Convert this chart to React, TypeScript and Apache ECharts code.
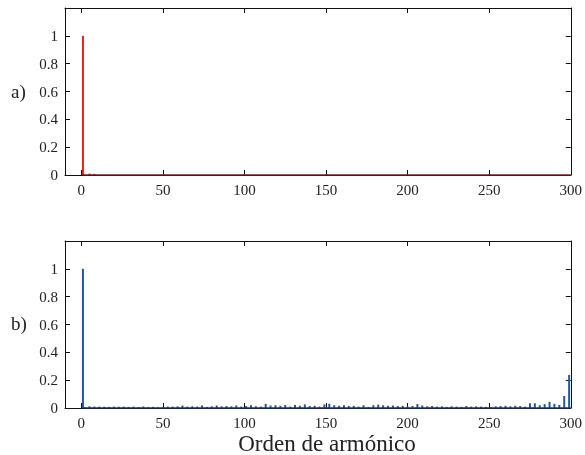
import React, { useEffect, useRef } from "react";
import * as echarts from "echarts";

// a) harmonic orders and amplitudes
const harmonicsA = [1, 5, 8];
const valuesA = [1.0, 0.01, 0.008];

// b) harmonic orders and amplitudes
const harmonicsB = [
  1, 2, 5, 8, 11, 14, 17, 20, 23, 26, 29, 32, 35, 38, 41, 44, 47, 50, 53, 56, 59,
  62, 65, 68, 71, 74, 77, 80, 83, 86, 89, 92, 95, 98, 101, 104, 107, 110, 113, 116,
  119, 122, 125, 128, 131, 134, 137, 140, 143, 146, 149, 152, 155, 158, 161, 164,
  167, 170, 173, 176, 179, 182, 185, 188, 191, 194, 197, 200, 203, 206, 209, 212,
  215, 218, 221, 224, 227, 230, 233, 236, 239, 242, 245, 248, 251, 254, 257, 260,
  263, 266, 269, 272, 275, 278, 281, 284, 287, 290, 293, 296, 299,
];
const valuesB = [
  1.0, 0.004, 0.012, 0.01, 0.01, 0.009, 0.008, 0.01, 0.009, 0.01, 0.008, 0.01, 0.006,
  0.011, 0.006, 0.008, 0.005, 0.006, 0.01, 0.01, 0.012, 0.018, 0.01, 0.012, 0.01,
  0.018, 0.008, 0.012, 0.018, 0.012, 0.014, 0.012, 0.018, 0.01, 0.014, 0.02, 0.012,
  0.01, 0.03, 0.018, 0.02, 0.016, 0.022, 0.01, 0.022, 0.016, 0.026, 0.014, 0.016,
  0.01, 0.026, 0.03, 0.02, 0.016, 0.02, 0.014, 0.016, 0.01, 0.02, 0.008, 0.02, 0.024,
  0.02, 0.016, 0.018, 0.014, 0.016, 0.01, 0.014, 0.028, 0.018, 0.012, 0.014, 0.01,
  0.012, 0.008, 0.012, 0.01, 0.008, 0.014, 0.01, 0.012, 0.01, 0.008, 0.006, 0.012,
  0.014, 0.016, 0.012, 0.016, 0.014, 0.01, 0.034, 0.034, 0.02, 0.028, 0.045, 0.03,
  0.022, 0.086, 0.237,
];

const xTicks = [0, 50, 100, 150, 200, 250, 300];
const yTicks = [0, 0.2, 0.4, 0.6, 0.8, 1];

const FONT = "'Liberation Serif', 'Times New Roman', 'DejaVu Serif', serif";

export default function App() {
  const ref = useRef<HTMLDivElement>(null);
  useEffect(() => {
    const chart = echarts.init(ref.current!, null, { renderer: "svg" });
    const grids = [
      { left: 65, top: 8, width: 508, height: 167 },
      { left: 65, top: 241, width: 508, height: 167 },
    ];
    const xAxes: any[] = [];
    const yAxes: any[] = [];
    grids.forEach((_, gi) => {
      xAxes.push({
        type: "value",
        gridIndex: gi,
        position: "bottom",
        min: -10,
        max: 300,
        splitLine: { show: false },
        axisLine: { show: true, onZero: false, lineStyle: { color: "#111", width: 1 } },
        axisTick: { show: true, inside: true, length: 5, customValues: xTicks, lineStyle: { color: "#111" } },
        axisLabel: { customValues: xTicks, fontFamily: FONT, fontSize: 15, color: "#222", margin: 7 },
      });
      xAxes.push({
        type: "value",
        gridIndex: gi,
        position: "top",
        min: -10,
        max: 300,
        splitLine: { show: false },
        axisLine: { show: true, onZero: false, lineStyle: { color: "#111", width: 1 } },
        axisTick: { show: true, inside: true, length: 5, customValues: xTicks, lineStyle: { color: "#111" } },
        axisLabel: { show: false },
      });
      yAxes.push({
        type: "value",
        gridIndex: gi,
        position: "left",
        min: 0,
        max: 1.2,
        splitLine: { show: false },
        axisLine: { show: true, onZero: false, lineStyle: { color: "#111", width: 1 } },
        axisTick: { show: true, inside: true, length: 5, customValues: yTicks, lineStyle: { color: "#111" } },
        axisLabel: { customValues: yTicks, fontFamily: FONT, fontSize: 15, color: "#222", margin: 7 },
      });
      yAxes.push({
        type: "value",
        gridIndex: gi,
        position: "right",
        min: 0,
        max: 1.2,
        splitLine: { show: false },
        axisLine: { show: true, onZero: false, lineStyle: { color: "#111", width: 1 } },
        axisTick: { show: true, inside: true, length: 5, customValues: yTicks, lineStyle: { color: "#111" } },
        axisLabel: { show: false },
      });
    });
    const dataA = harmonicsA.map((h, i) => [h, valuesA[i]]);
    const dataB = harmonicsB.map((h, i) => [h, valuesB[i]]);
    chart.setOption({
      animation: false,
      grid: grids,
      xAxis: xAxes,
      yAxis: yAxes,
      series: [
        {
          type: "bar",
          xAxisIndex: 0,
          yAxisIndex: 0,
          data: dataA,
          barWidth: 2,
          itemStyle: { color: "#e8201e" },
        },
        {
          type: "line",
          xAxisIndex: 0,
          yAxisIndex: 0,
          data: [[1, 0], [300, 0]],
          symbol: "none",
          lineStyle: { color: "#7a1f1f", width: 1.5 },
          z: 3,
        },
        {
          type: "bar",
          xAxisIndex: 2,
          yAxisIndex: 2,
          data: dataB,
          barWidth: 2,
          itemStyle: { color: "#2356a6" },
        },
        {
          type: "line",
          xAxisIndex: 2,
          yAxisIndex: 2,
          data: [[1, 0], [300, 0]],
          symbol: "none",
          lineStyle: { color: "#1b3566", width: 1.5 },
          z: 3,
        },
      ],
      graphic: [
        {
          type: "text",
          left: 11,
          top: 82,
          style: { text: "a)", fontFamily: FONT, fontSize: 19, fill: "#222" },
        },
        {
          type: "text",
          left: 11,
          top: 314,
          style: { text: "b)", fontFamily: FONT, fontSize: 19, fill: "#222" },
        },
        {
          type: "text",
          x: 327,
          y: 443,
          style: {
            text: "Orden de armónico",
            fontFamily: FONT,
            fontSize: 23,
            fill: "#222",
            align: "center",
            verticalAlign: "middle",
          },
        },
      ],
    });
    return () => chart.dispose();
  }, []);
  return (
    <div
      ref={ref}
      style={{ position: "fixed", left: 0, top: 0, width: 585, height: 455, overflow: "hidden" }}
    />
  );
}
